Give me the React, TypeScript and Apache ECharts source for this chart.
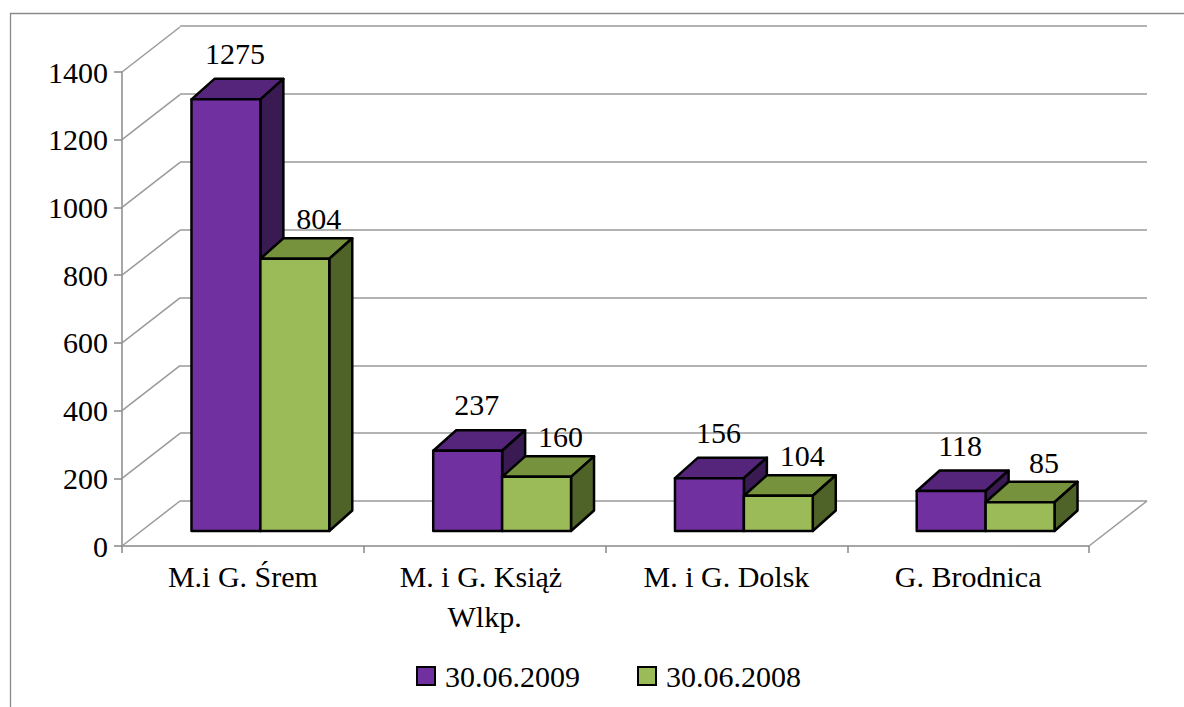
import React, { useEffect, useRef } from "react";
import * as echarts from "echarts";

const categories = ["M.i G. Śrem", "M. i G. Książ Wlkp.", "M. i G. Dolsk", "G. Brodnica"];
const seriesNames = ["30.06.2009", "30.06.2008"];
const values2009 = [1275, 237, 156, 118];
const values2008 = [804, 160, 104, 85];
const yMin = 0;
const yMax = 1400;
const yStep = 200;
const yTicks = [0, 200, 400, 600, 800, 1000, 1200, 1400];

const FONT = "Liberation Serif";
const faceColors = [
  { front: "#7030A0", top: "#54257A", side: "#391A52" },
  { front: "#9BBB59", top: "#77923D", side: "#4F6228" },
];
const GRID_LINE = "#9a9a9a";
const DEPTH_DX = 58;
const DEPTH_DY = -45;
const BAR_DX = 17.5;
const BAR_DY = -15;
const BD_DX = 23;
const BD_DY = -20.5;
const BAR_FRAC = 0.285;
const LABEL_OFF = [
  [9, -46],
  [24, -40],
];

const makeBarRender = (s: number) => (params: any, api: any) => {
  const i = api.value(0);
  const v = api.value(1);
  const base = api.coord([i, 0]);
  const topP = api.coord([i, v]);
  const band = api.size([1, 0])[0];
  const W = band * BAR_FRAC;
  const center = base[0] + BAR_DX;
  const x0 = s === 0 ? center - W : center;
  const x1 = x0 + W;
  const yb = base[1] + BAR_DY;
  const yt = topP[1] + BAR_DY;
  const c = faceColors[s];
  const stroke = { stroke: "#000", lineWidth: 2.5, lineJoin: "round" };
  return {
    type: "group",
    children: [
      {
        type: "polygon",
        shape: {
          points: [
            [x0, yt],
            [x1, yt],
            [x1 + BD_DX, yt + BD_DY],
            [x0 + BD_DX, yt + BD_DY],
          ],
        },
        style: { fill: c.top, ...stroke },
      },
      {
        type: "polygon",
        shape: {
          points: [
            [x1, yt],
            [x1 + BD_DX, yt + BD_DY],
            [x1 + BD_DX, yb + BD_DY],
            [x1, yb],
          ],
        },
        style: { fill: c.side, ...stroke },
      },
      {
        type: "rect",
        shape: { x: x0, y: yt, width: W, height: yb - yt },
        style: { fill: c.front, ...stroke },
      },
      {
        type: "text",
        x: (x0 + x1) / 2 + LABEL_OFF[s][0],
        y: yt + LABEL_OFF[s][1],
        style: {
          text: String(v),
          fontSize: 30,
          fontFamily: FONT,
          fill: "#000",
          align: "center",
          verticalAlign: "middle",
        },
      },
    ],
  };
};

const diagRender = (params: any, api: any) => {
  const v = api.value(1);
  const y = api.coord([0, v])[1];
  const cs = params.coordSys;
  const children: any[] = [
    {
      type: "line",
      shape: { x1: cs.x, y1: y, x2: cs.x + DEPTH_DX, y2: y + DEPTH_DY },
      style: { stroke: GRID_LINE, lineWidth: 1.5 },
    },
  ];
  if (v === yMin) {
    children.push({
      type: "line",
      shape: { x1: cs.x + cs.width, y1: y, x2: cs.x + cs.width + DEPTH_DX, y2: y + DEPTH_DY },
      style: { stroke: GRID_LINE, lineWidth: 1.5 },
    });
  }
  return { type: "group", children };
};

export default function App() {
  const ref = useRef<HTMLDivElement>(null);
  useEffect(() => {
    if (!ref.current) return;
    const chart = echarts.init(ref.current, undefined, { renderer: "svg" });
    const allValues = [values2009, values2008];
    chart.setOption({
      animation: false,
      backgroundColor: "#fff",
      textStyle: { fontFamily: FONT },
      graphic: [
        {
          type: "rect",
          shape: { x: 10.5, y: 13.5, width: 1400, height: 1000 },
          style: { fill: "none", stroke: "#8a8a8a", lineWidth: 1.3 },
          z: -10,
          silent: true,
        },
      ],
      legend: {
        data: seriesNames,
        left: 411,
        top: 656,
        itemWidth: 18,
        itemHeight: 18,
        itemGap: 57,
        icon: "rect",
        itemStyle: { borderColor: "#000", borderWidth: 2 },
        textStyle: { fontSize: 30, fontFamily: FONT, color: "#000", padding: [0, 0, 0, 5] },
      },
      grid: [
        { left: 122, right: 95, top: 72, bottom: 161 },
        { left: 180, right: 37, top: 26, bottom: 206 },
      ],
      xAxis: [
        {
          type: "category",
          gridIndex: 0,
          data: categories,
          axisLine: { lineStyle: { color: "#888", width: 1.5 } },
          axisTick: { show: true, length: 7, lineStyle: { color: "#888", width: 1.5 } },
          axisLabel: {
            interval: 0,
            fontSize: 30,
            fontFamily: FONT,
            color: "#000",
            margin: 10,
            lineHeight: 40,
            width: 210,
            overflow: "break",
          },
        },
        { type: "category", gridIndex: 1, data: categories, show: false },
      ],
      yAxis: [
        {
          type: "value",
          gridIndex: 0,
          min: yMin,
          max: yMax,
          interval: yStep,
          axisLine: { show: true, lineStyle: { color: "#888", width: 1.5 } },
          axisTick: { show: true, length: 8, lineStyle: { color: "#888", width: 1.5 } },
          splitLine: { show: false },
          axisLabel: {
            fontSize: 30,
            fontFamily: FONT,
            color: "#000",
            margin: 14,
            formatter: (v: number) => String(v),
          },
        },
        {
          type: "value",
          gridIndex: 1,
          min: yMin,
          max: yMax,
          interval: yStep,
          axisLine: { show: false },
          axisTick: { show: false },
          axisLabel: { show: false },
          splitLine: { show: true, lineStyle: { color: GRID_LINE, width: 1.5 } },
        },
      ],
      series: [
        {
          type: "custom",
          name: "diag",
          xAxisIndex: 0,
          yAxisIndex: 0,
          renderItem: diagRender,
          data: yTicks.map((v) => [0, v]),
          silent: true,
          z: 1,
        },
        ...seriesNames.map((name, s) => ({
          type: "custom",
          name,
          xAxisIndex: 0,
          yAxisIndex: 0,
          renderItem: makeBarRender(s),
          itemStyle: { color: faceColors[s].front },
          data: allValues[s].map((v, i) => [i, v]),
          encode: { x: 0, y: 1 },
          z: 3 + s,
        })),
      ],
    });
    return () => chart.dispose();
  }, []);
  return (
    <div
      ref={ref}
      style={{ position: "absolute", left: 0, top: 0, width: 1184, height: 707 }}
    />
  );
}
